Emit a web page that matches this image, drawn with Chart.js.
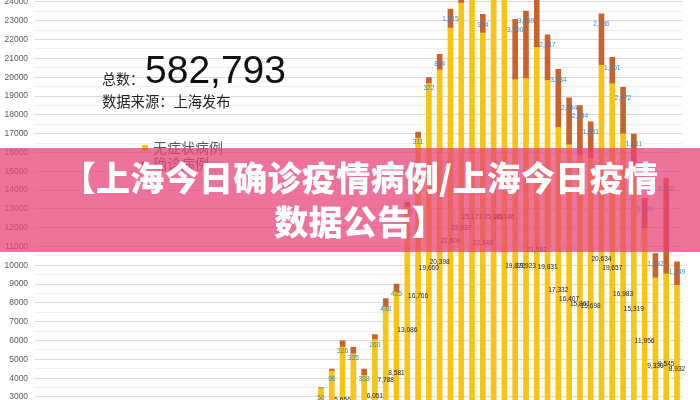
<!DOCTYPE html>
<html><head><meta charset="utf-8">
<script src="https://cdn.jsdelivr.net/npm/chart.js@4.4.1/dist/chart.umd.min.js"></script>
<style>
html,body{margin:0;padding:0;width:700px;height:400px;overflow:hidden;background:#fff;}
#wrap{position:absolute;left:0;top:-150px;width:700px;height:620px;}
.t{position:absolute;white-space:nowrap;line-height:1;font-family:"Noto Sans CJK SC","Noto Sans",sans-serif;}
#banner{position:absolute;left:0;top:148px;width:700px;height:104px;background:rgba(232,66,120,0.74);}
.bt{position:absolute;left:10px;width:700px;text-align:center;color:#fff;font-weight:900;font-size:34px;letter-spacing:0.3px;line-height:1;font-family:"Noto Sans CJK SC",sans-serif;white-space:nowrap;}
.sw{position:absolute;width:6px;height:6px;}
</style></head>
<body>
<div id="wrap"><canvas id="c" width="700" height="620"></canvas></div>
<div class="t" style="left:102px;top:71px;font-size:14px;color:#222;">总数：</div>
<div class="t" style="left:145px;top:50px;font-size:39px;color:#111;font-family:'Liberation Sans',Arial,sans-serif;">582,793</div>
<div class="t" style="left:102px;top:94px;font-size:14.3px;color:#222;">数据来源：上海发布</div>
<div class="sw" style="left:142px;top:145px;background:#F7C514;"></div>
<div class="t" style="left:153px;top:140px;font-size:14px;color:#595959;">无症状病例</div>
<div class="sw" style="left:142px;top:161px;background:#C5642C;"></div>
<div class="t" style="left:153px;top:156px;font-size:14px;color:#595959;">确诊病例</div>
<div id="banner"></div>
<div class="bt" style="top:160px;">【上海今日确诊疫情病例/上海今日疫情</div>
<div class="bt" style="top:204px;">数据公告】</div>
<script>
// Daily new cases, Shanghai, 1 Mar – 29 Apr 2022
const categories = [];
for (let d = 1; d <= 31; d++) categories.push('3月' + d + '日');
for (let d = 1; d <= 29; d++) categories.push('4月' + d + '日');

const asymptomatic = [
  1,5,14,16,28,45,50,62,76,64,
  78,64,128,130,197,150,203,366,492,734,
  865,977,979,1580,2231,2631,3450,4381,5656,5298,
  4144,6051,7788,8581,13086,16766,19660,20398,22609,23937,
  25173,22348,25141,25146,19872,19923,21582,19831,17332,16407,
  15861,15698,20634,19657,16983,15319,11956,9330,9545,8932
];
const confirmed = [
  1,3,2,3,0,3,1,3,4,11,
  5,1,41,9,5,8,57,8,17,24,
  31,4,4,29,38,45,50,96,326,335,
  338,260,438,425,268,311,322,824,1015,1006,
  914,994,1189,2573,3200,3590,3238,2417,3084,2494,
  2634,1931,2736,1401,2472,1661,1606,1292,5062,1249
];
const yTicks = { min: 0, max: 30000, step: 500, labelEvery: 1000 };

const fmt = v => v.toLocaleString('en-US');

const labelPlugin = {
  id: 'segLabels',
  afterDatasetsDraw(chart) {
    const ctx = chart.ctx;
    ctx.save();
    ctx.font = '8px "Liberation Sans", Arial, sans-serif';
    ctx.textAlign = 'center';
    ctx.textBaseline = 'middle';
    const m0 = chart.getDatasetMeta(0), m1 = chart.getDatasetMeta(1);
    m0.data.forEach((el, i) => {
      const p = el.getProps(['x', 'y', 'base'], true);
      ctx.fillStyle = '#1c1c1c';
      ctx.save(); ctx.translate(p.x, (p.y + p.base) / 2); ctx.scale(0.82, 1);
      ctx.fillText(fmt(asymptomatic[i]), 0, 0); ctx.restore();
    });
    m1.data.forEach((el, i) => {
      const p = el.getProps(['x', 'y', 'base'], true);
      ctx.fillStyle = '#3F85C5';
      ctx.save(); ctx.translate(p.x, p.y + 10); ctx.scale(0.82, 1);
      ctx.fillText(fmt(confirmed[i]), 0, 0); ctx.restore();
    });
    ctx.restore();
  }
};

new Chart(document.getElementById('c'), {
  type: 'bar',
  data: {
    labels: categories,
    datasets: [
      { label: '无症状病例', data: asymptomatic, backgroundColor: '#F7C514', barThickness: 5, borderWidth: 0 },
      { label: '确诊病例', data: confirmed, backgroundColor: '#C5642C', barThickness: 5, borderWidth: 0 }
    ]
  },
  options: {
    responsive: false,
    animation: false,
    layout: { padding: { left: 0, right: 17.6, top: 39.1, bottom: 16.6 } },
    plugins: { legend: { display: false }, tooltip: { enabled: false } },
    scales: {
      x: { stacked: true, display: false, offset: true, grid: { display: false } },
      y: {
        stacked: true,
        min: yTicks.min, max: yTicks.max,
        border: { display: false },
        afterFit(s) { s.width = 35.1; },
        grid: {
          color: c => (c.tick && c.tick.value % yTicks.labelEvery === 0) ? '#d9d9d9' : '#efefef',
          drawTicks: false, lineWidth: 1
        },
        ticks: {
          stepSize: yTicks.step, autoSkip: false, padding: 7,
          color: '#595959', font: { size: 8.5, family: '"Liberation Sans", Arial, sans-serif' },
          callback: v => (v % yTicks.labelEvery === 0) ? String(v) : ''
        }
      }
    }
  },
  plugins: [labelPlugin]
});
</script>
</body></html>
